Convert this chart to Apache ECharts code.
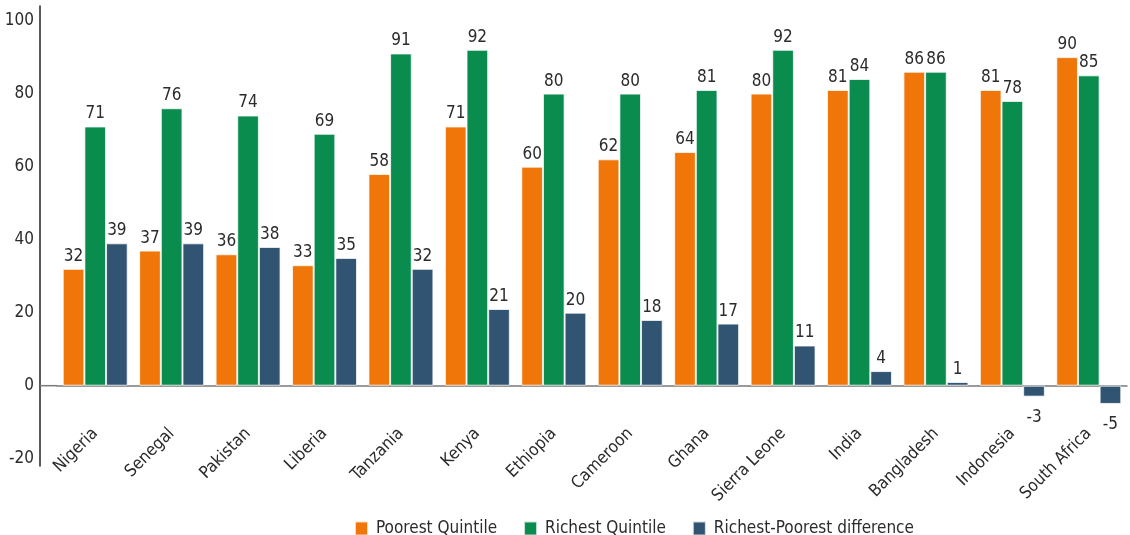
<!DOCTYPE html>
<html>
<head>
<meta charset="utf-8">
<script src="https://cdn.jsdelivr.net/npm/echarts@6/dist/echarts.min.js"></script>
<style>
  html, body { margin: 0; padding: 0; background: #fff; }
  #chart { width: 1130px; height: 535px; }
</style>
</head>
<body>
<div id="chart"></div>
<script>
// Countries along the category axis
const countries = ['Nigeria', 'Senegal', 'Pakistan', 'Liberia', 'Tanzania', 'Kenya', 'Ethiopia',
  'Cameroon', 'Ghana', 'Sierra Leone', 'India', 'Bangladesh', 'Indonesia', 'South Africa'];

// Values per wealth quintile
const poorest = [32, 37, 36, 33, 58, 71, 60, 62, 64, 80, 81, 86, 81, 90];
const richest = [71, 76, 74, 69, 91, 92, 80, 80, 81, 92, 84, 86, 78, 85];
const difference = [39, 39, 38, 35, 32, 21, 20, 18, 17, 11, 4, 1, -3, -5];

const seriesNames = ['Poorest Quintile', 'Richest Quintile', 'Richest-Poorest difference'];
const yTickLabels = [-20, 0, 20, 40, 60, 80, 100];

const FONT = '"DejaVu Sans Condensed", "Roboto", sans-serif';
const TEXT = '#2b2b2b';
const colors = ['#f0760a', '#0b8c4f', '#315473'];

const GRID_LEFT = 57;
const Y_OFFSET = 17;

function barSeries(name, values, color) {
  return {
    name: name,
    type: 'bar',
    barGap: '0%',
    barCategoryGap: '15%',
    itemStyle: { color: color, borderColor: 'rgba(255,255,255,0.75)', borderWidth: 1 },
    label: {
      show: true, position: 'top', distance: 4,
      fontFamily: FONT, fontSize: 17, color: TEXT
    },
    data: values.map(v => v < 0
      ? { value: v, label: { position: 'bottom', distance: 12 } }
      : v)
  };
}

const chart = echarts.init(document.getElementById('chart'), null, { renderer: 'canvas' });

chart.setOption({
  animation: false,
  backgroundColor: '#fff',
  color: colors,
  grid: { left: GRID_LEFT, right: 3, top: 6, bottom: 69, containLabel: false, outerBoundsMode: 'none' },
  legend: {
    data: seriesNames,
    left: 349, top: 515,
    icon: 'rect', itemWidth: 13, itemHeight: 14, itemGap: 26,
    textStyle: { fontFamily: FONT, fontSize: 17, color: TEXT, padding: [0, 0, 0, 3] }
  },
  xAxis: {
    type: 'category',
    data: countries,
    axisLine: { onZero: true, lineStyle: { color: '#7a7a7a', width: 1.5 } },
    axisTick: { show: false },
    axisLabel: {
      rotate: 45, margin: -35, interval: 0,
      fontFamily: FONT, fontSize: 17, color: TEXT
    }
  },
  yAxis: {
    type: 'value',
    min: -22, max: 104, interval: 2,
    offset: Y_OFFSET,
    splitLine: { show: false },
    axisTick: { show: false },
    axisLine: { show: true, lineStyle: { color: '#222', width: 1.5 } },
    axisLabel: {
      margin: 6,
      fontFamily: FONT, fontSize: 17, color: TEXT,
      formatter: v => (yTickLabels.indexOf(v) >= 0 ? String(v) : '')
    }
  },
  series: [
    barSeries(seriesNames[0], poorest, colors[0]),
    barSeries(seriesNames[1], richest, colors[1]),
    barSeries(seriesNames[2], difference, colors[2])
  ]
});

// Carry the zero line across the gap between the offset y axis and the plot area
const zeroY = chart.convertToPixel({ yAxisIndex: 0 }, 0);
chart.setOption({
  graphic: [{
    type: 'line', z: 10,
    shape: { x1: GRID_LEFT - Y_OFFSET, y1: zeroY, x2: GRID_LEFT, y2: zeroY },
    style: { stroke: '#7a7a7a', lineWidth: 1.5 }
  }]
});
</script>
</body>
</html>
